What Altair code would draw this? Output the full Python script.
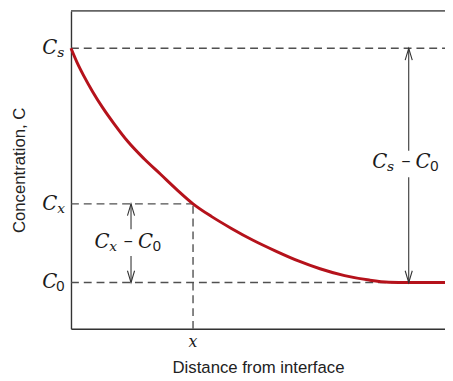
import altair as alt
import pandas as pd

# Curve: distance from interface (0-100) vs concentration (0-100)
dist = [0, 1.58, 3.42, 5.79, 8.42, 11.58, 15.26, 19.47, 23.95, 28.42, 32.63, 37.63,
        42.89, 48.68, 54.74, 60.79, 66.58, 73.16, 79.74, 85.0, 90.26, 100]
conc = [88.24, 83.90, 79.57, 74.61, 69.66, 64.40, 58.82, 53.56, 48.61, 43.65, 39.32, 35.29,
        31.58, 27.86, 24.46, 21.36, 18.89, 16.72, 15.33, 14.67, 14.55, 14.55]

C_S = 88.24
C_X = 39.32
C_0 = 14.55
X_POS = 32.63

tick_levels = [C_S, C_X, C_0]
tick_subs = ["s", "x", "0"]

# difference arrows: x position, top, bottom, gap top, gap bottom, label y
arrow_x = [16.05, 90.3]
arrow_top = [C_X, C_S]
arrow_bot = [C_0, C_0]
gap_top = [31.3, 56.0]
gap_bot = [22.9, 47.7]
label_y = [27.4, 52.3]
label_sub = ["x", "s"]

W, H = 380, 323
XS = alt.Scale(domain=[0, 100], nice=False, zero=False)
YS = alt.Scale(domain=[0, 100], nice=False, zero=False)

GRAY = "#505050"
AX = "#333333"
RED = "#b5121b"
SERIF = "DejaVu Serif"
SANS = "Liberation Sans"

base = alt.Chart(pd.DataFrame({"x": dist, "y": conc}))

curve = base.mark_line(color=RED, strokeWidth=3, interpolate="monotone").encode(
    x=alt.X("x:Q", scale=XS, axis=alt.Axis(domain=True, ticks=False, labels=False, grid=False,
                                            domainColor=AX, domainWidth=1.4,
                                            title="Distance from interface", titleFont=SANS,
                                            titleFontSize=17, titleFontWeight="normal",
                                            titleColor="#222", titlePadding=31)),
    y=alt.Y("y:Q", scale=YS, axis=alt.Axis(domain=True, ticks=False, labels=False, grid=False,
                                            domainColor=AX, domainWidth=1.4,
                                            title="Concentration, C", titleFont=SANS,
                                            titleFontSize=17, titleFontWeight="normal",
                                            titleColor="#222", titlePadding=43)),
)

top_line = alt.Chart(pd.DataFrame({"y": [100]})).mark_rule(color=AX, strokeWidth=1.4).encode(
    y=alt.Y("y:Q", scale=YS)
)

# dashed guide lines
hdash = pd.DataFrame({
    "x": [0, 0, 0],
    "x2": [100, X_POS, 100],
    "y": [C_S, C_X, C_0],
})
hlines = alt.Chart(hdash).mark_rule(color=GRAY, strokeWidth=1.4, strokeDash=[8, 5]).encode(
    x=alt.X("x:Q", scale=XS), x2="x2:Q", y=alt.Y("y:Q", scale=YS)
)
vdash = pd.DataFrame({"x": [X_POS], "y": [0], "y2": [C_X]})
vline = alt.Chart(vdash).mark_rule(color=GRAY, strokeWidth=1.4, strokeDash=[8, 5]).encode(
    x=alt.X("x:Q", scale=XS), y=alt.Y("y:Q", scale=YS), y2="y2:Q"
)

# arrows
shafts = pd.DataFrame({
    "x": arrow_x + arrow_x,
    "y": arrow_top + gap_bot,
    "y2": gap_top + arrow_bot,
})
shaft = alt.Chart(shafts).mark_rule(color=AX, strokeWidth=1.1).encode(
    x=alt.X("x:Q", scale=XS), y=alt.Y("y:Q", scale=YS), y2="y2:Q"
)
heads_up = alt.Chart(pd.DataFrame({"x": arrow_x, "y": arrow_top})).mark_point(
    shape="M -0.3 1 L 0 0 L 0.3 1", size=576, filled=False, color=AX, strokeWidth=1.1, opacity=1
).encode(x=alt.X("x:Q", scale=XS), y=alt.Y("y:Q", scale=YS))
heads_dn = alt.Chart(pd.DataFrame({"x": arrow_x, "y": arrow_bot})).mark_point(
    shape="M -0.3 -1 L 0 0 L 0.3 -1", size=576, filled=False, color=AX, strokeWidth=1.1, opacity=1
).encode(x=alt.X("x:Q", scale=XS), y=alt.Y("y:Q", scale=YS))


def txt(df, **kw):
    opts = dict(baseline="middle", color="#1a1a1a")
    opts.update(kw)
    return alt.Chart(df).mark_text(**opts).encode(
        x=alt.X("x:Q", scale=XS), y=alt.Y("y:Q", scale=YS), text="t:N"
    )


# y tick labels
ytk = pd.DataFrame({"x": [0] * 3, "y": tick_levels, "t": ["C"] * 3})
ylab_c = txt(ytk, font=SERIF, fontStyle="italic", fontSize=20, align="right", dx=-14)
ysub_it = pd.DataFrame({"x": [0, 0], "y": tick_levels[:2], "t": tick_subs[:2]})
ylab_s1 = txt(ysub_it, font=SERIF, fontStyle="italic", fontSize=14, align="left", dx=-14, dy=5)
ysub_0 = pd.DataFrame({"x": [0], "y": [tick_levels[2]], "t": [tick_subs[2]]})
ylab_s2 = txt(ysub_0, font=SANS, fontSize=15, align="left", dx=-15, dy=4)

# x tick label
xtk = pd.DataFrame({"x": [X_POS], "y": [0], "t": ["x"]})
xlab = txt(xtk, font=SERIF, fontStyle="italic", fontSize=16, align="center", dy=13)

# difference labels
lab = pd.DataFrame({"x": arrow_x, "y": label_y, "t": ["C", "C"]})
l_c1 = txt(lab, font=SERIF, fontStyle="italic", fontSize=20, align="left", dx=-37)
l_sub = txt(pd.DataFrame({"x": arrow_x, "y": label_y, "t": label_sub}),
            font=SERIF, fontStyle="italic", fontSize=14, align="left", dx=-22, dy=5)
l_minus = txt(pd.DataFrame({"x": arrow_x, "y": label_y, "t": ["\u2212", "\u2212"]}),
              font=SANS, fontSize=16, align="center", dx=-3)
l_c2 = txt(lab, font=SERIF, fontStyle="italic", fontSize=20, align="left", dx=7)
l_0 = txt(pd.DataFrame({"x": arrow_x, "y": label_y, "t": ["0", "0"]}),
          font=SANS, fontSize=15, align="left", dx=22, dy=4)

chart = alt.layer(
    hlines, vline, top_line, curve, shaft, heads_up, heads_dn,
    ylab_c, ylab_s1, ylab_s2, xlab, l_c1, l_sub, l_minus, l_c2, l_0,
).properties(
    width=W, height=H,
    autosize=alt.AutoSizeParams(type="none"),
    padding={"left": 64, "top": 0, "right": 0, "bottom": 46},
).configure_view(stroke=None).configure(background="white")

chart.save("out.html", embed_options={"renderer": "svg", "actions": False})
